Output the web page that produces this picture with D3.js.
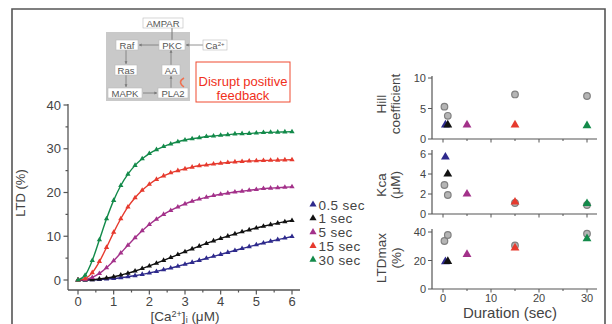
<!DOCTYPE html>
<html>
<head>
<meta charset="utf-8">
<script src="https://cdn.jsdelivr.net/npm/d3@7"></script>
<style>
  body { margin: 0; background: #fff; }
  svg { display: block; font-family: "Liberation Sans", Arial, sans-serif; }
</style>
</head>
<body>
<svg id="chart" width="612" height="324"></svg>
<script>
// concentration grid (uM) used for every dose-response curve
var caConc = [0,0.2,0.4,0.6,0.8,1,1.2,1.4,1.6,1.8,2,2.2,2.4,2.6,2.8,3,3.2,3.4,3.6,3.8,4,4.2,4.4,4.6,4.8,5,5.2,5.4,5.6,5.8,6];

// LTD (%)
var ltd05 = [0,0.01,0.05,0.11,0.21,0.35,0.53,0.74,1.0,1.28,1.61,1.96,2.34,2.74,3.15,3.59,4.03,4.48,4.95,5.41,5.86,6.31,6.75,7.19,7.63,8.04,8.45,8.84,9.22,9.58,9.93];
var ltd1 = [0,0.02,0.09,0.24,0.46,0.75,1.12,1.56,2.06,2.61,3.21,3.84,4.48,5.14,5.81,6.47,7.11,7.74,8.35,8.94,9.5,10.03,10.54,11.01,11.46,11.89,12.28,12.65,13.0,13.33,13.6];
var ltd5 = [0,0.11,0.59,1.5,2.81,4.41,6.17,7.96,9.67,11.25,12.67,13.9,15.0,15.9,16.7,17.4,18.0,18.5,18.9,19.3,19.6,19.85,20.1,20.3,20.5,20.7,20.9,21.0,21.1,21.2,21.3];
var ltd15 = [0,0.31,1.69,4.21,7.45,10.9,14.0,16.7,18.8,20.5,21.9,23.0,23.8,24.5,25.0,25.4,25.8,26.1,26.3,26.5,26.7,26.85,27.0,27.1,27.2,27.25,27.3,27.35,27.4,27.45,27.5];
var ltd30 = [0,1.08,4.47,9.2,14.0,18.2,21.6,24.2,26.2,27.7,28.9,29.8,30.5,31.1,31.6,32.0,32.3,32.5,32.8,32.9,33.1,33.2,33.4,33.45,33.5,33.6,33.7,33.75,33.8,33.85,33.9];

var seriesNames = ["0.5 sec", "1 sec", "5 sec", "15 sec", "30 sec"];
var seriesColors = ["#2e2a8c", "#111111", "#a3318a", "#e63a2e", "#138a4a"];
var seriesData = [ltd05, ltd1, ltd5, ltd15, ltd30];

// fitted parameters vs stimulus duration
var durations = [0.5, 1, 5, 15, 30];
var hillFit = [2.3, 2.3, 2.3, 2.3, 2.2];
var kcaFit = [5.7, 4.0, 2.0, 1.2, 1.05];
var ltdmaxFit = [19.2, 19.4, 24.3, 28.8, 35.3];

// grey circles (reference values)
var refDur = [0.3, 1, 15, 30];
var hillRef = [5.3, 3.8, 7.3, 7.05];
var kcaRef = [2.9, 1.9, 1.1, 0.9];
var ltdmaxRef = [33.7, 37.9, 30.6, 38.8];

var svg = d3.select("#chart");
var axisCol = "#555";

// frame
svg.append("path")
  .attr("d", "M12,330 V9 H605 V330")
  .attr("fill", "none").attr("stroke", "#555").attr("stroke-width", 1.6);

// ---------- left plot ----------
var x = d3.scaleLinear().domain([0, 6]).range([78, 292]);
var y = d3.scaleLinear().domain([0, 40]).range([280, 105]);

var gy = svg.append("g").attr("transform", "translate(68,0)");
gy.append("line").attr("y1", y(40) - 1).attr("y2", 290).attr("stroke", axisCol).attr("stroke-width", 1.3);
d3.range(0, 41, 5).forEach(function (v) {
  gy.append("line").attr("x1", v % 10 ? -2.5 : -4.5).attr("x2", 0)
    .attr("y1", y(v)).attr("y2", y(v)).attr("stroke", axisCol).attr("stroke-width", 1.2);
});
gy.selectAll("text.yt").data([0, 10, 20, 30, 40]).join("text")
  .attr("x", -7).attr("y", d => y(d) + 4.5)
  .attr("text-anchor", "end").attr("font-size", 13).attr("fill", "#444")
  .text(d => d);

var gx = svg.append("g").attr("transform", "translate(0,290)");
gx.append("line").attr("x1", 68).attr("x2", 300).attr("stroke", axisCol).attr("stroke-width", 1.3);
d3.range(0, 6.01, 0.5).forEach(function (v) {
  gx.append("line").attr("x1", x(v)).attr("x2", x(v))
    .attr("y1", 0).attr("y2", v % 1 ? 2.5 : 4.5).attr("stroke", axisCol).attr("stroke-width", 1.2);
});
gx.selectAll("text").data(d3.range(0, 7)).join("text")
  .attr("x", d => x(d)).attr("y", 15.5)
  .attr("text-anchor", "middle").attr("font-size", 13).attr("fill", "#444")
  .text(d => d);

svg.append("text")
  .attr("transform", "translate(25,193) rotate(-90)")
  .attr("text-anchor", "middle").attr("font-size", 13).attr("fill", "#444")
  .text("LTD (%)");

var xl = svg.append("text").attr("x", 185).attr("y", 321)
  .attr("text-anchor", "middle").attr("font-size", 13.5).attr("fill", "#444");
xl.append("tspan").text("[Ca");
xl.append("tspan").attr("dy", -4).attr("font-size", 9).text("2+");
xl.append("tspan").attr("dy", 4).text("]");
xl.append("tspan").attr("dy", 2).attr("font-size", 9).text("i");
xl.append("tspan").attr("dy", -2).text(" (\u03bcM)");

var line = d3.line().x((d, i) => x(caConc[i])).y(d => y(d)).curve(d3.curveMonotoneX);
var tri = d3.symbol(d3.symbolTriangle).size(12);

seriesData.forEach(function (vals, s) {
  svg.append("path").attr("d", line(vals))
    .attr("fill", "none").attr("stroke", seriesColors[s]).attr("stroke-width", 1.4);
  svg.append("g").selectAll("path").data(vals).join("path")
    .attr("transform", (d, i) => "translate(" + x(caConc[i]) + "," + y(d) + ")")
    .attr("d", tri).attr("fill", seriesColors[s]);
});

// legend
var leg = svg.append("g");
seriesNames.forEach(function (n, i) {
  var ly = 205 + i * 13.8;
  leg.append("path").attr("transform", "translate(313," + (ly - 0.5) + ")")
    .attr("d", d3.symbol(d3.symbolTriangle).size(22)).attr("fill", seriesColors[i]);
  leg.append("text").attr("x", 318.5).attr("y", ly + 4.5)
    .attr("font-size", 13.5).attr("fill", "#444").attr("letter-spacing", 0.4).text(n);
});

// ---------- pathway diagram ----------
var dg = svg.append("g");
dg.append("rect").attr("x", 106).attr("y", 32).attr("width", 84).attr("height", 69).attr("fill", "#c9c9c9");
var boxes = [
  ["AMPAR", 163, 23, 40], ["Raf", 127, 45, 22], ["PKC", 172, 45, 26], ["Ca2+", 215, 45, 24],
  ["Ras", 126, 70, 22], ["AA", 171, 70, 18], ["MAPK", 125, 93, 34], ["PLA2", 173, 93, 30]
];
var arrows = [[159, 45, 139, 45], [203, 45, 186, 45], [126, 50, 126, 64], [126, 75, 126, 87],
  [143, 93, 157, 93], [171, 88, 171, 76], [171, 65, 171, 50]];
dg.append("line").attr("x1", 172).attr("x2", 172).attr("y1", 28).attr("y2", 40).attr("stroke", "#777");
arrows.forEach(function (a) {
  dg.append("line").attr("x1", a[0]).attr("y1", a[1]).attr("x2", a[2]).attr("y2", a[3])
    .attr("stroke", "#777").attr("stroke-width", 0.8);
  var ang = Math.atan2(a[3] - a[1], a[2] - a[0]);
  var p = [[a[2], a[3]], [a[2] - 3 * Math.cos(ang - 0.5), a[3] - 3 * Math.sin(ang - 0.5)],
    [a[2] - 3 * Math.cos(ang + 0.5), a[3] - 3 * Math.sin(ang + 0.5)]];
  dg.append("path").attr("d", "M" + p.join("L") + "Z").attr("fill", "#777");
});
boxes.forEach(function (b) {
  dg.append("rect").attr("x", b[1] - b[3] / 2).attr("y", b[2] - 5).attr("width", b[3]).attr("height", 10)
    .attr("fill", "#fff").attr("stroke", "#bbb").attr("stroke-width", 0.6);
  var t = dg.append("text").attr("x", b[1]).attr("y", b[2] + 3.5).attr("text-anchor", "middle")
    .attr("font-size", 9.5).attr("fill", "#555");
  if (b[0] === "Ca2+") { t.append("tspan").text("Ca"); t.append("tspan").attr("font-size", 6).attr("dy", -3).text("2+"); }
  else t.text(b[0]);
});
dg.append("path").attr("d", "M184,78 Q177,82 184,87").attr("fill", "none").attr("stroke", "#f07050").attr("stroke-width", 1.5);
dg.append("rect").attr("x", 196).attr("y", 62).attr("width", 94).attr("height", 40)
  .attr("fill", "none").attr("stroke", "#f04a30").attr("stroke-width", 1);
dg.append("text").attr("x", 243).attr("y", 86).attr("text-anchor", "middle").attr("font-size", 13)
  .attr("fill", "#f03020").text("Disrupt positive");
dg.append("text").attr("x", 243).attr("y", 100).attr("text-anchor", "middle").attr("font-size", 13)
  .attr("fill", "#f03020").text("feedback");

// ---------- right panels ----------
var xd = d3.scaleLinear().domain([0, 30]).range([443, 587]);
var panels = [
  { fit: hillFit, ref: hillRef, y: d3.scaleLinear().domain([0, 10]).range([139, 78]), ticks: [0, 5, 10], top: 76, label: ["Hill", "coefficient"], cy: 104, lx: [386, 400] },
  { fit: kcaFit, ref: kcaRef, y: d3.scaleLinear().domain([0, 6]).range([214, 154]), ticks: [0, 2, 4, 6], top: 150, label: ["Kca", "(\u03bcM)"], cy: 185, lx: [386, 400] },
  { fit: ltdmaxFit, ref: ltdmaxRef, y: d3.scaleLinear().domain([0, 40]).range([289, 232]), ticks: [0, 20, 40], top: 229, label: ["LTDmax", "(%)"], cy: 258, lx: [386, 401] }
];
panels.forEach(function (p) {
  var g = svg.append("g");
  var y0 = p.y(0);
  g.append("line").attr("x1", 432).attr("x2", 432).attr("y1", p.top).attr("y2", y0).attr("stroke", axisCol).attr("stroke-width", 1.2);
  g.append("line").attr("x1", 432).attr("x2", 597).attr("y1", y0).attr("y2", y0).attr("stroke", axisCol).attr("stroke-width", 1.2);
  p.ticks.forEach(function (v) {
    g.append("line").attr("x1", 428).attr("x2", 432).attr("y1", p.y(v)).attr("y2", p.y(v)).attr("stroke", axisCol);
    g.append("text").attr("x", 426).attr("y", p.y(v) + 4).attr("text-anchor", "end")
      .attr("font-size", 11).attr("fill", "#444").text(v);
  });
  d3.range(0, 31, 5).forEach(function (v) {
    g.append("line").attr("x1", xd(v)).attr("x2", xd(v)).attr("y1", y0).attr("y2", y0 + (v % 10 ? 2 : 3.5)).attr("stroke", axisCol);
  });
  p.label.forEach(function (s, j) {
    g.append("text").attr("transform", "translate(" + p.lx[j] + "," + p.cy + ") rotate(-90)")
      .attr("text-anchor", "middle").attr("font-size", 13.5).attr("fill", "#444").text(s);
  });
  g.selectAll("circle").data(p.ref).join("circle")
    .attr("cx", (d, i) => xd(refDur[i])).attr("cy", d => p.y(d)).attr("r", 3.3)
    .attr("fill", "#b5b5b5").attr("stroke", "#808080").attr("stroke-width", 1.2);
  g.selectAll("path.t").data(p.fit).join("path")
    .attr("transform", (d, i) => "translate(" + xd(durations[i]) + "," + p.y(d) + ")")
    .attr("d", d3.symbol(d3.symbolTriangle).size(34)).attr("fill", (d, i) => seriesColors[i]);
});
svg.selectAll("text.xd").data([0, 10, 20, 30]).join("text")
  .attr("x", d => xd(d)).attr("y", 302).attr("text-anchor", "middle")
  .attr("font-size", 11).attr("fill", "#444").text(d => d);
svg.append("text").attr("x", 510).attr("y", 318).attr("text-anchor", "middle")
  .attr("font-size", 15).attr("fill", "#444").text("Duration (sec)");
</script>
</body>
</html>
